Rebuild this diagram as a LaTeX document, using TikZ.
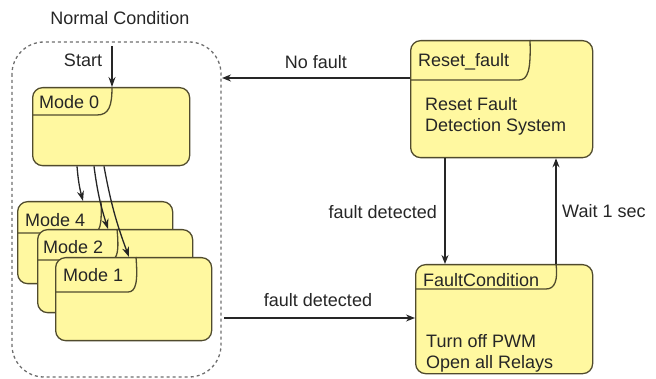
\documentclass[tikz,border=0pt]{standalone}
\usepackage{fontspec}
\setmainfont{Liberation Sans}
\usetikzlibrary{arrows.meta,calc}
\definecolor{boxfill}{RGB}{255,248,160}
\definecolor{boxline}{RGB}{80,75,45}
\definecolor{dashcol}{RGB}{110,110,110}
\tikzset{
  statebox/.style={draw=boxline, fill=boxfill, line width=1.3pt, rounded corners=10pt, anchor=north west, inner sep=0pt},
  hdr/.style={draw=boxline, line width=1.3pt},
  lbl/.style={font=\fontsize{18}{21}\selectfont, inner sep=0pt, text=black!85},
  conn/.style={line width=1.4pt, draw=black!85, -{Stealth[length=9pt,width=7pt]}},
  subconn/.style={line width=1.3pt, draw=black!85, -{Stealth[length=10pt,width=7pt]}},
}
\begin{document}
\begin{tikzpicture}[x=1pt,y=-1pt]
\useasboundingbox (0,0) rectangle (656,379);
% group
\draw[dashcol, line width=1.3pt, dash pattern=on 3pt off 3pt, rounded corners=32pt] (12,42) rectangle (221,377);
\coordinate (grpE) at (222,78);
\coordinate (grpE2) at (224,318);
\node[lbl] (nc) at (120,18) {Normal Condition};

% Mode 0
\node[statebox, minimum width=157pt, minimum height=78pt] (m0) at (32,87) {};
\draw[hdr] (m0.north west |- 0,115) -- (97,115) .. controls (109,115) and (112,106) .. (112,87);
\coordinate (m0t) at (112,87);
\node[lbl, anchor=west] (m0l) at (39,102) {Mode 0};
\coordinate (st) at (112,46);
\node[lbl] (stl) at (83,60) {Start};
\draw[subconn] (st) -- (m0t);

% Mode 4
\node[statebox, minimum width=155pt, minimum height=82pt] (m4) at (17,201) {};
\draw[hdr] (m4.north west |- 0,233) -- (92,233) .. controls (100,233) and (102,226) .. (101,201);
\node[lbl, anchor=west] (m4l) at (25,220) {Mode 4};
% Mode 2
\node[statebox, minimum width=155pt, minimum height=83pt] (m2) at (37,229) {};
\draw[hdr] (m2.north west |- 0,260) -- (110,260) .. controls (118,260) and (119,250) .. (117,229);
\node[lbl, anchor=west] (m2l) at (43,247) {Mode 2};
% Mode 1
\node[statebox, minimum width=156pt, minimum height=83pt] (m1) at (55,257) {};
\draw[hdr] (m1.north west |- 0,292) -- (128,292) .. controls (136,292) and (138,282) .. (136,257);
\node[lbl, anchor=west] (m1l) at (63,275) {Mode 1};

% arrows from Mode 0
\draw[subconn] ($(m0.south west)+(45,0)$) to[bend right=5] (83,201);
\draw[subconn] ($(m0.south west)+(62,0)$) to[bend right=5] (108,229);
\draw[subconn] ($(m0.south west)+(72,0)$) to[bend right=5] (129,257);

% Reset_fault
\node[statebox, minimum width=182pt, minimum height=117pt] (rf) at (410,40) {};
\draw[hdr] (rf.north west |- 0,80) -- (519,80) .. controls (528,80) and (531,70) .. (530,40);
\node[lbl, anchor=west] (rfl) at (418,62) {Reset\_fault};
\node[lbl, anchor=west] (rfb1) at (425,104) {Reset Fault};
\node[lbl, anchor=west] (rfb2) at (425,127) {Detection System};
\coordinate (rfw) at (410,78);

% FaultCondition
\node[statebox, minimum width=177pt, minimum height=109pt] (fc) at (415,264) {};
\draw[hdr] (fc.north west |- 0,289) -- (546,289) .. controls (555,289) and (558,280) .. (556,264);
\node[lbl, anchor=west] (fcl) at (423,280) {FaultCondition};
\node[lbl, anchor=west] (fcb1) at (426,341) {Turn off PWM};
\node[lbl, anchor=west] (fcb2) at (426,364) {Open all Relays};

% connectors
\draw[conn] (rfw) -- (grpE);
\node[lbl] (nf) at (316,62) {No fault};
\draw[conn] (rf.south west -| 445,0) -- (fc.north west -| 445,0);
\node[lbl, anchor=east] (fd1) at (437,212) {fault detected};
\draw[conn] (fc.north west -| 556,0) -- (rf.south west -| 556,0);
\node[lbl, anchor=west] (w1) at (562,211) {Wait 1 sec};
\draw[conn] (grpE2) -- (fc.west |- grpE2);
\node[lbl] (fd2) at (318,300) {fault detected};
\end{tikzpicture}
\end{document}
